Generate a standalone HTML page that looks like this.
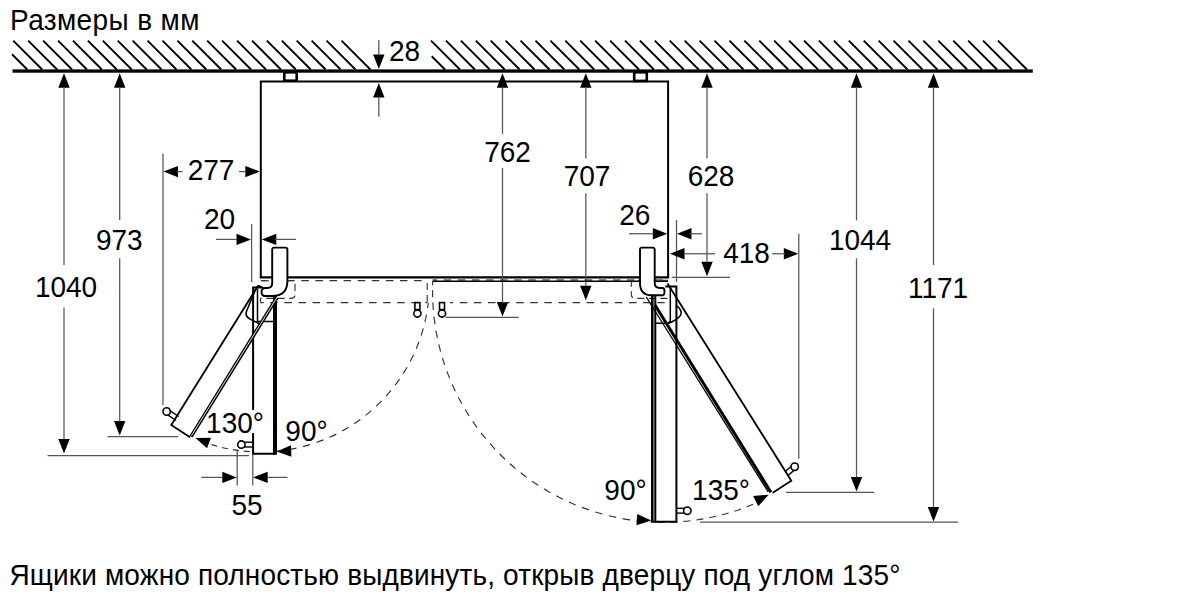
<!DOCTYPE html>
<html><head><meta charset="utf-8"><style>
html,body{margin:0;padding:0;background:#fff;width:1200px;height:600px;overflow:hidden}
svg{display:block}
text{font-family:"Liberation Sans",sans-serif;fill:#000}
</style></head><body>
<svg width="1200" height="600" viewBox="0 0 1200 600">
<path d="M12 54.27L27.23 69.5M13.25 40.6L42.15 69.5M28.17 40.6L57.07 69.5M43.09 40.6L71.99 69.5M58.01 40.6L86.91 69.5M72.93 40.6L101.83 69.5M87.85 40.6L116.75 69.5M102.77 40.6L131.67 69.5M117.69 40.6L146.59 69.5M132.61 40.6L161.51 69.5M147.53 40.6L176.43 69.5M162.45 40.6L191.35 69.5M177.37 40.6L206.27 69.5M192.29 40.6L221.19 69.5M207.21 40.6L236.11 69.5M222.13 40.6L251.03 69.5M237.05 40.6L265.95 69.5M251.97 40.6L280.87 69.5M266.89 40.6L295.79 69.5M281.81 40.6L310.71 69.5M296.73 40.6L325.63 69.5M311.65 40.6L340.55 69.5M326.57 40.6L355.47 69.5M341.49 40.6L370.39 69.5M431.7 56.21L444.99 69.5M431.01 40.6L459.91 69.5M445.93 40.6L474.83 69.5M460.85 40.6L489.75 69.5M475.77 40.6L504.67 69.5M490.69 40.6L519.59 69.5M505.61 40.6L534.51 69.5M520.53 40.6L549.43 69.5M535.45 40.6L564.35 69.5M550.37 40.6L579.27 69.5M565.29 40.6L594.19 69.5M580.21 40.6L609.11 69.5M595.13 40.6L624.03 69.5M610.05 40.6L638.95 69.5M624.97 40.6L653.87 69.5M639.89 40.6L668.79 69.5M654.81 40.6L683.71 69.5M669.73 40.6L698.63 69.5M684.65 40.6L713.55 69.5M699.57 40.6L728.47 69.5M714.49 40.6L743.39 69.5M729.41 40.6L758.31 69.5M744.33 40.6L773.23 69.5M759.25 40.6L788.15 69.5M774.17 40.6L803.07 69.5M789.09 40.6L817.99 69.5M804.01 40.6L832.91 69.5M818.93 40.6L847.83 69.5M833.85 40.6L862.75 69.5M848.77 40.6L877.67 69.5M863.69 40.6L892.59 69.5M878.61 40.6L907.51 69.5M893.53 40.6L922.43 69.5M908.45 40.6L937.35 69.5M923.37 40.6L952.27 69.5M938.29 40.6L967.19 69.5M953.21 40.6L982.11 69.5M968.13 40.6L997.03 69.5M983.05 40.6L1011.95 69.5M997.97 40.6L1026.87 69.5" stroke="#000" stroke-width="1.9" fill="none"/>
<rect x="12.5" y="69.4" width="1020.3" height="3.3"/>
<rect x="284.3" y="72.3" width="12.4" height="8.4" fill="#fff" stroke="#000" stroke-width="2.6"/>
<rect x="634.2" y="72.3" width="12.6" height="8.6" fill="#fff" stroke="#000" stroke-width="2.6"/>
<path d="M260.8 277.4V81.4H668.1V277.4" fill="none" stroke="#000" stroke-width="2"/>
<path d="M259.8 277.4L669.1 277.4" stroke="#000" stroke-width="2.4" fill="none"/>
<path d="M64 73.3L58.3 87.8L69.7 87.8Z"/><path d="M64 453.5L69.7 439L58.3 439Z"/><path d="M64 87.3L64 265" stroke="#555" stroke-width="1.25" fill="none"/><path d="M64 307.5L64 439.5" stroke="#555" stroke-width="1.25" fill="none"/>
<path d="M47.5 455.5L249 455.5" stroke="#555" stroke-width="1.25" fill="none"/>
<path d="M119.7 73.3L114 87.8L125.4 87.8Z"/><path d="M119.7 435.5L125.4 421L114 421Z"/><path d="M119.7 87.3L119.7 220" stroke="#555" stroke-width="1.25" fill="none"/><path d="M119.7 258.3L119.7 421.5" stroke="#555" stroke-width="1.25" fill="none"/>
<path d="M107.5 436.6L178 436.6" stroke="#555" stroke-width="1.25" fill="none"/>
<path d="M502.5 73.3L496.8 87.8L508.2 87.8Z"/><path d="M502.5 316.5L508.2 302L496.8 302Z"/><path d="M502.5 87.3L502.5 134" stroke="#555" stroke-width="1.25" fill="none"/><path d="M502.5 168L502.5 302.5" stroke="#555" stroke-width="1.25" fill="none"/>
<path d="M445.5 317.3L518.75 317.3" stroke="#555" stroke-width="1.25" fill="none"/>
<path d="M585.8 73.3L580.1 87.8L591.5 87.8Z"/><path d="M585.8 300.3L591.5 285.8L580.1 285.8Z"/><path d="M585.8 87.3L585.8 158.4" stroke="#555" stroke-width="1.25" fill="none"/><path d="M585.8 193.3L585.8 286.3" stroke="#555" stroke-width="1.25" fill="none"/>
<path d="M707 73.3L701.3 87.8L712.7 87.8Z"/><path d="M707 276.3L712.7 261.8L701.3 261.8Z"/><path d="M707 87.3L707 158.4" stroke="#555" stroke-width="1.25" fill="none"/><path d="M707 193.3L707 262.3" stroke="#555" stroke-width="1.25" fill="none"/>
<path d="M671.7 277.4L730 277.4" stroke="#555" stroke-width="1.25" fill="none"/>
<path d="M856.5 73.3L850.8 87.8L862.2 87.8Z"/><path d="M856.5 491.5L862.2 477L850.8 477Z"/><path d="M856.5 87.3L856.5 220.3" stroke="#555" stroke-width="1.25" fill="none"/><path d="M856.5 258.3L856.5 477.5" stroke="#555" stroke-width="1.25" fill="none"/>
<path d="M786 492.3L874 492.3" stroke="#555" stroke-width="1.25" fill="none"/>
<path d="M933.5 73.3L927.8 87.8L939.2 87.8Z"/><path d="M933.5 521.5L939.2 507L927.8 507Z"/><path d="M933.5 87.3L933.5 265" stroke="#555" stroke-width="1.25" fill="none"/><path d="M933.5 308.3L933.5 507.5" stroke="#555" stroke-width="1.25" fill="none"/>
<path d="M700 522L958 522" stroke="#555" stroke-width="1.25" fill="none"/>
<path d="M378.8 69L384.5 54.5L373.1 54.5Z"/><path d="M378.8 40L378.8 55" stroke="#555" stroke-width="1.25" fill="none"/>
<path d="M378.8 83L373.1 97.5L384.5 97.5Z"/><path d="M378.8 97L378.8 116.7" stroke="#555" stroke-width="1.25" fill="none"/>
<path d="M163 153.6L163 405" stroke="#555" stroke-width="1.25" fill="none"/>
<path d="M163.5 171.6L178 177.3L178 165.9Z"/><path d="M177 171.6L182.6 171.6" stroke="#555" stroke-width="1.25" fill="none"/>
<path d="M259.8 171.6L245.3 165.9L245.3 177.3Z"/><path d="M239 171.6L246 171.6" stroke="#555" stroke-width="1.25" fill="none"/>
<path d="M251.6 224L251.6 282" stroke="#555" stroke-width="1.25" fill="none"/>
<path d="M251 239.4L236.5 233.7L236.5 245.1Z"/><path d="M216 239.4L237 239.4" stroke="#555" stroke-width="1.25" fill="none"/>
<path d="M261.8 239.4L276.3 245.1L276.3 233.7Z"/><path d="M275 239.4L296 239.4" stroke="#555" stroke-width="1.25" fill="none"/>
<path d="M676.5 220L676.5 282" stroke="#555" stroke-width="1.25" fill="none"/>
<path d="M667.3 233.75L652.8 228.05L652.8 239.45Z"/><path d="M629 233.75L653 233.75" stroke="#555" stroke-width="1.25" fill="none"/>
<path d="M677 233.75L691.5 239.45L691.5 228.05Z"/><path d="M690 233.75L702 233.75" stroke="#555" stroke-width="1.25" fill="none"/>
<path d="M798.8 233.75L798.8 458.7" stroke="#555" stroke-width="1.25" fill="none"/>
<path d="M670 253.75L684.5 259.45L684.5 248.05Z"/><path d="M684 253.75L715 253.75" stroke="#555" stroke-width="1.25" fill="none"/>
<path d="M798.3 253.75L783.8 248.05L783.8 259.45Z"/><path d="M772 253.75L785 253.75" stroke="#555" stroke-width="1.25" fill="none"/>
<path d="M237.2 449.4L237.2 485.6" stroke="#555" stroke-width="1.25" fill="none"/>
<path d="M252.8 454L252.8 485.6" stroke="#555" stroke-width="1.25" fill="none"/>
<path d="M236.8 477.4L222.3 471.7L222.3 483.1Z"/><path d="M201.3 477.4L223 477.4" stroke="#555" stroke-width="1.25" fill="none"/>
<path d="M253.2 477.4L267.7 483.1L267.7 471.7Z"/><path d="M267 477.4L287.5 477.4" stroke="#555" stroke-width="1.25" fill="none"/>
<path d="M261 280.7H427.2" fill="none" stroke="#333" stroke-width="1.2" stroke-dasharray="7.5 6.6" stroke-dashoffset="2"/>
<path d="M260.5 302.6H427.2M450 302.6H668" fill="none" stroke="#333" stroke-width="1.2" stroke-dasharray="7.5 6.6" stroke-dashoffset="4.3"/>
<path d="M432.6 281.3H668" fill="none" stroke="#000" stroke-width="1.4"/>
<path d="M432.6 280H668" fill="none" stroke="#000" stroke-width="1" stroke-dasharray="7.5 6.6" stroke-dashoffset="3"/>
<path d="M427.2 283V302.6" fill="none" stroke="#333" stroke-width="1.15" stroke-dasharray="7 5"/>
<path d="M432.6 281.3V302.6" fill="none" stroke="#333" stroke-width="1.15" stroke-dasharray="7 5" stroke-dashoffset="3"/>
<path d="M262 280.7H291Q295 280.7 295 284.7V294.3Q295 298.3 291 298.3H260.5V302.6" fill="none" stroke="#333" stroke-width="1.15" stroke-dasharray="7 4.5"/>
<path d="M668 280.3H635.3Q631.3 280.3 631.3 284.3V294.3Q631.3 298.3 635.3 298.3H668" fill="none" stroke="#333" stroke-width="1.15" stroke-dasharray="7 4.5"/>
<rect x="414.9" y="302.6" width="5" height="7" fill="#fff" stroke="#000" stroke-width="1.6"/><circle cx="417.4" cy="313.5" r="3.6" fill="#fff" stroke="#000" stroke-width="1.6"/>
<rect x="439.5" y="302.6" width="5" height="7" fill="#fff" stroke="#000" stroke-width="1.6"/><circle cx="442" cy="313.5" r="3.6" fill="#fff" stroke="#000" stroke-width="1.6"/>
<path d="M428.29 302.6A168.7 168.7 0 0 1 276.7 451.24" fill="none" stroke="#333" stroke-width="1.15" stroke-dasharray="7.5 6.6" stroke-dashoffset="2"/>
<path d="M276.7 451.24A168.7 168.7 0 0 1 207.5 443.39" fill="none" stroke="#333" stroke-width="1.15" stroke-dasharray="6 5" stroke-dashoffset="6"/>
<path d="M432.88 302.6A231 231 0 0 0 652.5 522.03" fill="none" stroke="#333" stroke-width="1.15" stroke-dasharray="7.5 6.6"/>
<path d="M652.5 522.03A231 231 0 0 0 756 503.01" fill="none" stroke="#333" stroke-width="1.15" stroke-dasharray="7 6" stroke-dashoffset="8"/>
<path d="M276.7 451.5L291.36 456.76L291.02 445.37Z"/>
<path d="M195.4 438L207.05 448.34L210.98 437.64Z"/>
<path d="M651.3 520.5L637.17 513.94L636.48 525.32Z"/>
<path d="M768.7 494.7L753.18 496.03L758.24 506.25Z"/>
<path d="M287.4 277V281Q287.4 296 272 296H265.2Q261.5 296 261.5 292Q261.5 288 265.2 288H267.5Q272.2 288 272.2 283V249.6Q272.2 247.6 274.2 247.6H285.4Q287.4 247.6 287.4 249.6Z" fill="#fff" stroke="#000" stroke-width="1.9"/>
<rect x="253.1" y="326" width="22" height="127.7" fill="#fff"/>
<path d="M261 287.5H253.1V453.7H275" fill="none" stroke="#000" stroke-width="2"/>
<path d="M275 296L275 454.7" stroke="#000" stroke-width="4" fill="none"/>
<path d="M257.5 289V321.5H275" fill="none" stroke="#000" stroke-width="1.5"/>
<path d="M258.2 285.5L171.3 424.9L190 437.2" fill="none" stroke="#000" stroke-width="1.8"/>
<path d="M191 436.6L277 297.5" fill="none" stroke="#000" stroke-width="3.6"/>
<path d="M191.4 435.8L277.4 296.7" fill="none" stroke="#fff" stroke-width="0.9"/>
<path d="M258.2 285.5L263.5 288" fill="none" stroke="#000" stroke-width="1.6"/>
<path d="M255.5 289.5L246.8 310.5Q244.5 316 249.5 318.8L260 324" fill="none" stroke="#000" stroke-width="1.6"/>
<path d="M167.57 414.92L176.19 420.51" stroke="#000" stroke-width="1.4" fill="none"/><path d="M170.18 410.89L178.81 416.49" stroke="#000" stroke-width="1.4" fill="none"/><circle cx="166.7" cy="411.5" r="3.7" fill="#fff" stroke="#000" stroke-width="1.6"/>
<path d="M243.99 447L253 447" stroke="#000" stroke-width="1.4" fill="none"/><path d="M243.99 442.2L253 442.2" stroke="#000" stroke-width="1.4" fill="none"/><circle cx="241.4" cy="444.6" r="3.7" fill="#fff" stroke="#000" stroke-width="1.6"/>
<path d="M640 277V283Q640 295.3 652 295.3H662.7Q664.5 295.3 664.5 291.6Q664.5 288 662.7 288H660Q654.7 288 654.7 283V249.6Q654.7 247.6 652.7 247.6H642Q640 247.6 640 249.6Z" fill="#fff" stroke="#000" stroke-width="1.9"/>
<rect x="652.8" y="326" width="23.6" height="195.7" fill="#fff"/>
<path d="M665.3 286.4H676.4V521.7H652.8" fill="none" stroke="#000" stroke-width="2"/>
<path d="M652.3 295.5L652.3 522.5" stroke="#000" stroke-width="2.6" fill="none"/>
<path d="M655.3 295.5L655.3 522.5" stroke="#000" stroke-width="2" fill="none"/>
<path d="M670.3 286.6V321.3L668 323.2H656" fill="none" stroke="#000" stroke-width="1.5"/>
<path d="M676.3 305.3Q683 310 680.5 315.5Q677 320 668 323.5" fill="none" stroke="#000" stroke-width="1.5"/>
<path d="M667.5 283.5L791.3 480.7L772.7 492.7" fill="none" stroke="#000" stroke-width="1.8"/>
<path d="M770.9 492.2L655 305" fill="none" stroke="#000" stroke-width="3"/>
<path d="M768.2 492L646.3 297" fill="none" stroke="#000" stroke-width="1.3"/>
<path d="M791.17 466.5L785.17 471.45" stroke="#000" stroke-width="1.4" fill="none"/><path d="M794.23 470.2L788.23 475.15" stroke="#000" stroke-width="1.4" fill="none"/><circle cx="794.7" cy="466.7" r="3.7" fill="#fff" stroke="#000" stroke-width="1.6"/>
<path d="M684.71 508.3L677 508.3" stroke="#000" stroke-width="1.4" fill="none"/><path d="M684.71 513.1L677 513.1" stroke="#000" stroke-width="1.4" fill="none"/><circle cx="687.3" cy="510.7" r="3.7" fill="#fff" stroke="#000" stroke-width="1.6"/>
<rect x="248" y="410" width="15" height="23" fill="#fff"/>
<text transform="translate(10 29.7) scale(1 1.03)" font-size="28" text-anchor="start" letter-spacing="0.39">Размеры в мм</text>
<text transform="translate(404.5 60.8) scale(1 1.03)" font-size="28" text-anchor="middle">28</text>
<text transform="translate(211 180) scale(1 1.03)" font-size="28" text-anchor="middle">277</text>
<text transform="translate(219.5 229) scale(1 1.03)" font-size="28" text-anchor="middle">20</text>
<text transform="translate(119.3 250) scale(1 1.03)" font-size="28" text-anchor="middle">973</text>
<text transform="translate(66 297) scale(1 1.03)" font-size="28" text-anchor="middle">1040</text>
<text transform="translate(507.5 162.3) scale(1 1.03)" font-size="28" text-anchor="middle">762</text>
<text transform="translate(587 186.3) scale(1 1.03)" font-size="28" text-anchor="middle">707</text>
<text transform="translate(711 186.3) scale(1 1.03)" font-size="28" text-anchor="middle">628</text>
<text transform="translate(634.8 225) scale(1 1.03)" font-size="28" text-anchor="middle">26</text>
<text transform="translate(746.5 263) scale(1 1.03)" font-size="28" text-anchor="middle">418</text>
<text transform="translate(860 250) scale(1 1.03)" font-size="28" text-anchor="middle">1044</text>
<text transform="translate(938 297.5) scale(1 1.03)" font-size="28" text-anchor="middle">1171</text>
<text transform="translate(235 432.5) scale(1 1.03)" font-size="28" text-anchor="middle">130°</text>
<text transform="translate(306.5 440.7) scale(1 1.03)" font-size="28" text-anchor="middle">90°</text>
<text transform="translate(247 514.8) scale(1 1.03)" font-size="28" text-anchor="middle">55</text>
<text transform="translate(625.5 500) scale(1 1.03)" font-size="28" text-anchor="middle">90°</text>
<text transform="translate(721 500) scale(1 1.03)" font-size="28" text-anchor="middle">135°</text>
<text transform="translate(9.5 584.7) scale(1 1.03)" font-size="28" text-anchor="start" letter-spacing="0.16">Ящики можно полностью выдвинуть, открыв дверцу под углом 135°</text>
</svg>
</body></html>
